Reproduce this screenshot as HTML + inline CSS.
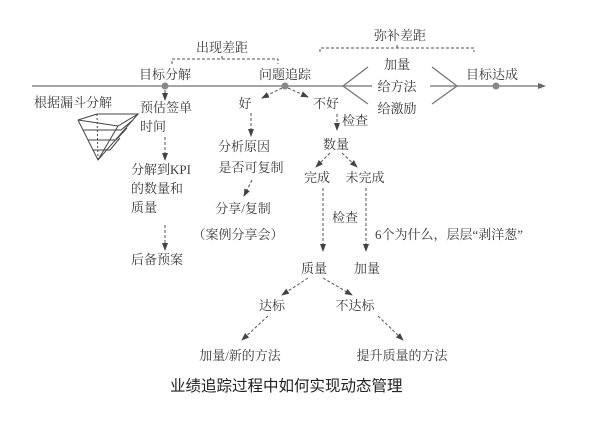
<!DOCTYPE html>
<html><head><meta charset="utf-8"><style>
html,body{margin:0;padding:0;background:#fff;}
svg{display:block}
text{font-family:"Liberation Serif","Noto Serif CJK SC",serif;font-size:13px;fill:#3a3a3a;}
.t{font-family:"Liberation Sans","Noto Sans CJK SC",sans-serif;font-size:15.5px;fill:#222;}
.d{stroke:#555;stroke-width:1;stroke-dasharray:3,2;fill:none;}
</style></head><body>
<svg width="600" height="429" viewBox="0 0 600 429">
<defs><marker id="a" markerWidth="8" markerHeight="8" refX="7" refY="4" orient="auto" markerUnits="userSpaceOnUse"><path d="M0,1 L8,4 L0,7 Z" fill="#444"/></marker></defs>
<!-- main line -->
<line x1="32" y1="86" x2="372" y2="86" stroke="#888" stroke-width="1.6"/>
<line x1="430" y1="86" x2="540" y2="86" stroke="#888" stroke-width="1.6"/>
<path d="M538,83 L546,86 L538,89 Z" fill="#666"/>
<circle cx="165" cy="86" r="3.5" fill="#888"/>
<circle cx="285" cy="86" r="3.5" fill="#888"/>
<circle cx="496" cy="86" r="3.5" fill="#888"/>
<path d="M368,67 L343,86 L368,104" stroke="#777" stroke-width="1.3" fill="none"/>
<path d="M432,67 L457,86 L432,104" stroke="#777" stroke-width="1.3" fill="none"/>
<!-- brackets -->
<path class="d" d="M172,64 V59 H278 V64 M222,59 V56"/>
<path class="d" d="M320,52 V48 H474 V52 M397,48 V45"/>
<text x="222" y="52" text-anchor="middle">出现差距</text>
<text x="400" y="40" text-anchor="middle">弥补差距</text>
<text x="165" y="79" text-anchor="middle">目标分解</text>
<text x="285" y="79" text-anchor="middle">问题追踪</text>
<text x="492" y="79" text-anchor="middle">目标达成</text>
<text x="397" y="69" text-anchor="middle">加量</text>
<text x="397" y="91" text-anchor="middle">给方法</text>
<text x="397" y="113" text-anchor="middle">给激励</text>
<!-- left branch -->
<text x="73" y="107" text-anchor="middle">根据漏斗分解</text>
<g stroke="#444" stroke-width="1" fill="none">
<path d="M78,120 L97,114 L138,114 L118,126 Z"/>
<path d="M78,120 L98,160 L138,114 M118,126 L98,160"/>
<path d="M83,130 L121,130 L133,120 M88,140 L116,140 L127,128 M93,150 L110,150 L120,138"/>
<path d="M97,114 L98,160" stroke-dasharray="2,2"/>
</g>
<line class="d" x1="165" y1="90" x2="165" y2="100" marker-end="url(#a)"/>
<text x="140" y="112">预估签单</text>
<text x="140" y="131">时间</text>
<line class="d" x1="165" y1="137" x2="165" y2="160" marker-end="url(#a)"/>
<text x="131" y="174">分解到KPI</text>
<text x="131" y="193">的数量和</text>
<text x="131" y="212">质量</text>
<line class="d" x1="165" y1="225" x2="165" y2="250" marker-end="url(#a)"/>
<text x="131" y="264">后备预案</text>
<!-- good -->
<line class="d" x1="282" y1="88" x2="262" y2="98" marker-end="url(#a)"/>
<text x="245" y="108" text-anchor="middle">好</text>
<line class="d" x1="251" y1="113" x2="251" y2="136" marker-end="url(#a)"/>
<text x="244" y="151" text-anchor="middle">分析原因</text>
<text x="251" y="172" text-anchor="middle">是否可复制</text>
<line class="d" x1="252" y1="180" x2="244" y2="196" marker-end="url(#a)"/>
<text x="243" y="213" text-anchor="middle">分享/复制</text>
<text x="238" y="239" text-anchor="middle">（案例分享会）</text>
<!-- bad -->
<line class="d" x1="288" y1="88" x2="308" y2="97" marker-end="url(#a)"/>
<text x="326" y="108" text-anchor="middle">不好</text>
<text x="355" y="125" text-anchor="middle">检查</text>
<line class="d" x1="337" y1="114" x2="337" y2="130" marker-end="url(#a)"/>
<text x="336" y="149" text-anchor="middle">数量</text>
<line class="d" x1="330" y1="153" x2="316" y2="167" marker-end="url(#a)"/>
<line class="d" x1="342" y1="153" x2="357" y2="167" marker-end="url(#a)"/>
<text x="317" y="182" text-anchor="middle">完成</text>
<text x="365" y="182" text-anchor="middle">未完成</text>
<line class="d" x1="323" y1="188" x2="323" y2="251" marker-end="url(#a)"/>
<text x="345" y="222" text-anchor="middle">检查</text>
<line class="d" x1="366" y1="188" x2="366" y2="251" marker-end="url(#a)"/>
<text x="375" y="239">6个为什么，层层“剥洋葱”</text>
<text x="314" y="273" text-anchor="middle">质量</text>
<text x="367" y="273" text-anchor="middle">加量</text>
<line class="d" x1="308" y1="278" x2="282" y2="295" marker-end="url(#a)"/>
<line class="d" x1="323" y1="278" x2="352" y2="295" marker-end="url(#a)"/>
<text x="272" y="310" text-anchor="middle">达标</text>
<text x="355" y="310" text-anchor="middle">不达标</text>
<line class="d" x1="268" y1="316" x2="242" y2="340" marker-end="url(#a)"/>
<line class="d" x1="378" y1="316" x2="403" y2="340" marker-end="url(#a)"/>
<text x="240" y="360" text-anchor="middle">加量/新的方法</text>
<text x="402" y="360" text-anchor="middle">提升质量的方法</text>
<text class="t" x="170" y="391">业绩追踪过程中如何实现动态管理</text>
</svg>
</body></html>
